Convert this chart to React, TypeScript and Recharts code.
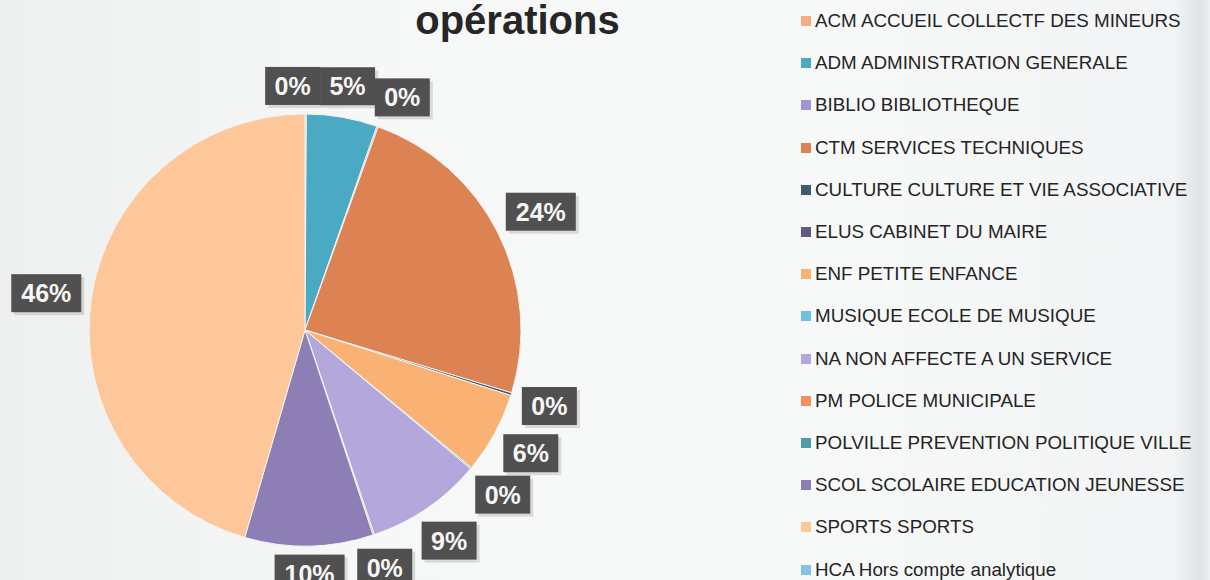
import React from 'react';
import { PieChart, Pie, Cell, Legend } from 'recharts';

const categories = [
  'ACM ACCUEIL COLLECTF DES MINEURS',
  'ADM ADMINISTRATION GENERALE',
  'BIBLIO BIBLIOTHEQUE',
  'CTM SERVICES TECHNIQUES',
  'CULTURE CULTURE ET VIE ASSOCIATIVE',
  'ELUS CABINET DU MAIRE',
  'ENF PETITE ENFANCE',
  'MUSIQUE ECOLE DE MUSIQUE',
  'NA NON AFFECTE A UN SERVICE',
  'PM POLICE MUNICIPALE',
  'POLVILLE PREVENTION POLITIQUE VILLE',
  'SCOL SCOLAIRE EDUCATION JEUNESSE',
  'SPORTS SPORTS',
  'HCA Hors compte analytique',
];

// share of operations, in %
const values = [0.1, 5.3, 0.1, 24.2, 0.2, 0, 6.1, 0.1, 8.7, 0.1, 0, 9.6, 45.5, 0];

const colors = [
  '#f6ad84', '#4aa9c3', '#a294d4', '#dd8252', '#3e5c6b', '#5f5a80', '#f9b274',
  '#6cc0e2', '#b4a7dc', '#f98f5c', '#4e9ca8', '#8d7eb5', '#fdc799', '#86c2e4',
];

const data = categories.map((name, i) => ({ name, value: values[i], color: colors[i] }));

const CX = 305;
const CY = 330;
const R = 216;
const FONT = '"Liberation Sans", Arial, sans-serif';
const BOX_W = 55;
const BOX_H = 38;

// angular room (deg) two neighbouring label boxes need at angle a (clockwise from top)
const gapAt = (a: number) => {
  const t = (a * Math.PI) / 180;
  const tx = Math.abs(Math.cos(t)) || 1e-6;
  const ty = Math.abs(Math.sin(t)) || 1e-6;
  const s = Math.min(BOX_W / tx, BOX_H / ty);
  return ((s / 250) * 180) / Math.PI;
};

// label angles spread apart so small slices don't overlap
const total = values.reduce((a, b) => a + b, 0);
const labelAngles: number[] = (() => {
  const mids: number[] = [];
  let cum = 0;
  values.forEach((v) => {
    mids.push(((cum + v / 2) / total) * 360);
    cum += v;
  });
  const idx = values.map((v, i) => i).filter((i) => values[i] > 0);
  let groups = idx.map((i) => ({ members: [i], mean: mids[i] }));
  let changed = true;
  while (changed) {
    changed = false;
    for (let g = 0; g < groups.length - 1; g++) {
      const a = groups[g];
      const b = groups[g + 1];
      const gap = gapAt((a.mean + b.mean) / 2);
      const aEnd = a.mean + ((a.members.length - 1) * gap) / 2;
      const bStart = b.mean - ((b.members.length - 1) * gap) / 2;
      if (bStart - aEnd < gap) {
        const members = [...a.members, ...b.members];
        const mean = members.reduce((s, m) => s + mids[m], 0) / members.length;
        groups.splice(g, 2, { members, mean });
        changed = true;
        break;
      }
    }
  }
  const out = mids.slice();
  groups.forEach((g) => {
    const gap = gapAt(g.mean);
    g.members.forEach((m, k) => {
      out[m] = g.mean + (k - (g.members.length - 1) / 2) * gap;
    });
  });
  return out;
})();

const renderLabel = (props: any) => {
  const { index, cx, cy, outerRadius } = props;
  const v = values[index];
  if (!v) return null;
  const text = `${Math.round((v / total) * 100)}%`;
  const w = text.length === 2 ? BOX_W : 70;
  const h = BOX_H;
  const t = (labelAngles[index] * Math.PI) / 180;
  const s = Math.sin(t);
  const c = Math.cos(t);
  const d = outerRadius + 8 + (w / 2) * Math.abs(s) + (h / 2) * Math.abs(c);
  const x = cx + d * s;
  const y = cy - d * c;
  return (
    <g key={`lbl-${index}`}>
      <rect x={x - w / 2 + 3} y={y - h / 2 + 3} width={w} height={h} fill="#000" opacity={0.12} />
      <rect x={x - w / 2} y={y - h / 2} width={w} height={h} fill="#505050" />
      <text
        x={x}
        y={y + 9}
        textAnchor="middle"
        fill="#f7f7f7"
        fontFamily={FONT}
        fontWeight="bold"
        fontSize={25}
      >
        {text}
      </text>
    </g>
  );
};

const LegendList = () => (
  <div style={{ fontFamily: FONT, fontSize: 18.8, color: '#242424' }}>
    {data.map((item, i) => (
      <div key={i} style={{ height: 42.2, display: 'flex', alignItems: 'center', whiteSpace: 'nowrap' }}>
        <span style={{ width: 10, height: 10, background: item.color, marginRight: 4, display: 'inline-block' }} />
        {item.name}
      </div>
    ))}
  </div>
);

export default function App() {
  return (
    <div
      style={{
        position: 'fixed',
        left: 0,
        top: 0,
        width: 1210,
        height: 580,
        overflow: 'hidden',
        background:
          'linear-gradient(to right, #eef0f0 0%, #f6f7f7 30%, #f7f8f8 70%, #f2f4f5 97%, #dfe4e7 99.2%, #eef1f3 100%)',
      }}
    >
      <div
        style={{
          position: 'absolute',
          left: 0,
          top: 0,
          width: 1035,
          textAlign: 'center',
          fontFamily: FONT,
          fontWeight: 'bold',
          fontSize: 40,
          lineHeight: '40px',
          color: '#262626',
        }}
      >
        opérations
      </div>
      <PieChart width={1210} height={580} margin={{ top: 0, right: 0, bottom: 0, left: 0 }}>
        <Pie
          data={data}
          dataKey="value"
          nameKey="name"
          cx={CX}
          cy={CY}
          outerRadius={R}
          startAngle={90}
          endAngle={-270}
          stroke="#f3f3f3"
          strokeWidth={1}
          label={renderLabel}
          labelLine={false}
          isAnimationActive={false}
        >
          {data.map((entry, i) => (
            <Cell key={`cell-${i}`} fill={entry.color} />
          ))}
        </Pie>
        <Legend
          layout="vertical"
          align="right"
          verticalAlign="top"
          content={() => <LegendList />}
          wrapperStyle={{ left: 801, top: 0, right: 'auto', width: 409 }}
        />
      </PieChart>
    </div>
  );
}
